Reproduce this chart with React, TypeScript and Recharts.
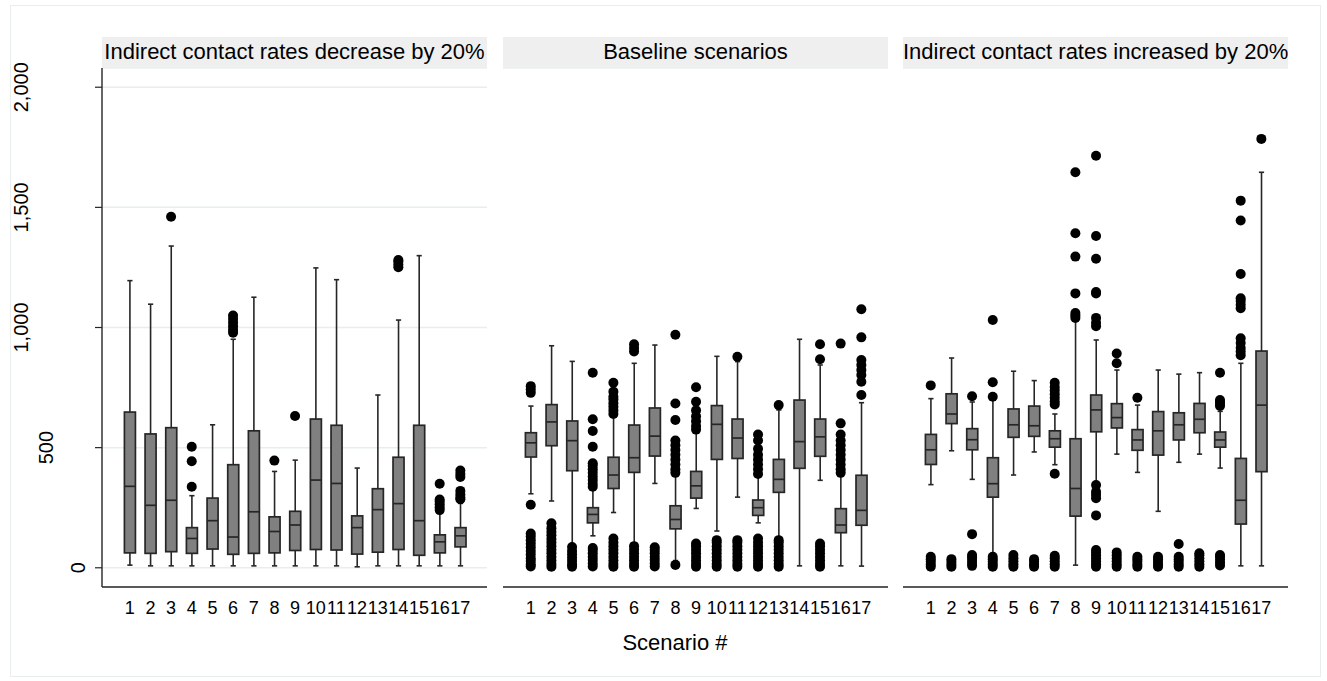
import React from 'react'
import { ComposedChart, Bar, Scatter, XAxis, YAxis, CartesianGrid } from 'recharts'

const scenarios = [1, 2, 3, 4, 5, 6, 7, 8, 9, 10, 11, 12, 13, 14, 15, 16, 17]
const yTicks = [0, 500, 1000, 1500, 2000]
const panelTitles = [
  'Indirect contact rates decrease by 20%',
  'Baseline scenarios',
  'Indirect contact rates increased by 20%',
]

// indirect contact rates -20%
const decLo = [11, 8, 8, 8, 8, 8, 8, 8, 8, 8, 8, 4, 8, 8, 8, 8, 8]
const decQ1 = [62, 60, 67, 60, 78, 56, 60, 62, 72, 76, 74, 57, 65, 76, 52, 62, 87]
const decMed = [339, 260, 281, 122, 196, 128, 233, 151, 178, 365, 351, 167, 242, 267, 196, 108, 133]
const decQ3 = [648, 557, 583, 167, 290, 429, 570, 212, 235, 619, 593, 216, 329, 460, 593, 137, 167]
const decHi = [1195, 1097, 1339, 300, 595, 951, 1126, 401, 448, 1248, 1199, 415, 719, 1031, 1299, 232, 268]
const decOut = [
  [], [], [1461], [337, 443, 504], [], [978, 990, 1005, 1020, 1035, 1050], [], [446], [632],
  [], [], [], [], [1251, 1262, 1275, 1281], [], [240, 252, 264, 276, 284, 350],
  [285, 292, 305, 320, 378, 390, 405],
]

// baseline
const baseLo = [308, 278, 100, 133, 230, 100, 351, 30, 247, 153, 294, 187, 125, 8, 364, 8, 7]
const baseQ1 = [461, 508, 404, 187, 330, 397, 465, 162, 290, 451, 455, 218, 314, 414, 464, 146, 177]
const baseMed = [520, 607, 529, 222, 386, 458, 548, 201, 341, 597, 540, 250, 368, 525, 545, 178, 239]
const baseQ3 = [562, 679, 611, 250, 460, 594, 665, 258, 401, 675, 619, 282, 451, 698, 619, 246, 385]
const baseHi = [673, 924, 859, 323, 628, 851, 927, 386, 560, 880, 858, 379, 657, 951, 844, 385, 687]
const baseOut = [
  [5, 15, 28, 40, 55, 70, 85, 100, 115, 130, 143, 262, 728, 742, 756],
  [4, 16, 30, 45, 60, 75, 90, 105, 120, 135, 150, 165, 185],
  [4, 15, 28, 42, 56, 70, 86],
  [5, 18, 32, 46, 60, 74, 82, 337, 350, 365, 380, 395, 410, 425, 435, 504, 569, 618, 812],
  [4, 16, 30, 45, 60, 75, 90, 105, 122, 640, 655, 670, 685, 700, 712, 733, 770],
  [4, 16, 30, 45, 60, 75, 90, 900, 915, 930],
  [5, 18, 32, 46, 60, 74, 85],
  [12, 395, 410, 430, 450, 470, 490, 510, 530, 615, 684, 970],
  [4, 16, 30, 45, 60, 75, 90, 101, 575, 590, 610, 630, 655, 691, 751],
  [4, 16, 30, 45, 60, 75, 90, 105, 115],
  [4, 16, 30, 45, 60, 75, 90, 105, 115, 878],
  [4, 16, 30, 45, 60, 75, 90, 105, 122, 390, 410, 430, 450, 470, 495, 530, 555],
  [4, 16, 30, 45, 60, 75, 90, 105, 115, 677],
  [],
  [4, 16, 30, 45, 60, 75, 90, 101, 868, 930],
  [395, 410, 430, 450, 470, 490, 510, 530, 555, 601, 933],
  [719, 774, 802, 823, 844, 865, 959, 1076],
]

// indirect contact rates +20%
const incLo = [346, 487, 368, 60, 386, 482, 429, 11, 358, 473, 397, 235, 439, 473, 415, 8, 8]
const incQ1 = [430, 600, 491, 294, 543, 547, 502, 215, 566, 582, 489, 469, 532, 562, 502, 182, 400]
const incMed = [491, 640, 533, 350, 595, 591, 537, 330, 657, 625, 532, 570, 595, 618, 532, 281, 677]
const incQ3 = [555, 724, 579, 458, 661, 673, 570, 537, 719, 683, 575, 650, 645, 684, 565, 455, 902]
const incHi = [704, 873, 690, 698, 818, 779, 640, 1035, 948, 823, 677, 823, 806, 812, 651, 851, 1646]
const incOut = [
  [4, 14, 25, 36, 46, 759],
  [4, 14, 25, 36],
  [8, 20, 32, 44, 53, 140, 714],
  [4, 14, 25, 36, 46, 712, 772, 1031],
  [4, 15, 27, 40, 53],
  [4, 14, 25, 36],
  [4, 15, 27, 40, 50, 391, 680, 692, 708, 722, 738, 752, 770],
  [1040, 1050, 1060, 1142, 1295, 1392, 1646],
  [4, 15, 27, 40, 52, 64, 74, 218, 289, 304, 316, 344, 1005, 1020, 1040, 1142, 1148, 1286, 1381, 1715],
  [4, 15, 27, 40, 52, 64, 851, 892],
  [4, 14, 25, 36, 46, 708],
  [4, 14, 25, 36, 46],
  [4, 14, 25, 36, 46, 99],
  [4, 15, 27, 40, 52, 60],
  [10, 22, 34, 46, 53, 673, 682, 690, 698, 812],
  [885, 900, 915, 935, 955, 1080, 1095, 1110, 1122, 1223, 1445, 1528],
  [1785],
]

const INK = '#262626'
const FONT = '"Liberation Sans", Arial, Helvetica, sans-serif'
const PLOT_TOP = 68
const PLOT_H = 519
const XAXIS_H = 40
const TOP_PAD = 32
const Y_DOMAIN = [-80, 2080]
const X_DOMAIN = [-0.343, 18.29]

function boxRows(lo: number[], q1: number[], med: number[], q3: number[], hi: number[]) {
  return scenarios.map((s, i) => ({
    x: s,
    range: [lo[i], hi[i]],
    lo: lo[i],
    q1: q1[i],
    med: med[i],
    q3: q3[i],
    hi: hi[i],
  }))
}

function outlierRows(out: number[][]) {
  return out.flatMap((vals, i) => vals.map((v) => ({ x: scenarios[i], v })))
}

function BoxShape(props: any) {
  const { x, y, width, height, payload } = props
  if (payload == null || height == null) return null
  const { lo, q1, med, q3, hi } = payload
  const py = (v: number) => y + (height * (hi - v)) / (hi - lo)
  const cx = x + width / 2
  const cap = 2.6
  return (
    <g>
      <line x1={cx} x2={cx} y1={py(hi)} y2={py(lo)} stroke={INK} strokeWidth={1.6} />
      <line x1={cx - cap} x2={cx + cap} y1={py(hi)} y2={py(hi)} stroke={INK} strokeWidth={1.6} />
      <line x1={cx - cap} x2={cx + cap} y1={py(lo)} y2={py(lo)} stroke={INK} strokeWidth={1.6} />
      <rect x={x} y={py(q3)} width={width} height={py(q1) - py(q3)} fill="#808080" stroke={INK} strokeWidth={1.7} />
      <line x1={x} x2={x + width} y1={py(med)} y2={py(med)} stroke={INK} strokeWidth={1.7} />
    </g>
  )
}

function Dot(props: any) {
  if (props.cx == null || props.cy == null) return null
  return <circle cx={props.cx} cy={props.cy} r={5} fill="#000" />
}

function YTick(props: any) {
  const { x, y, payload } = props
  const label = Number(payload.value).toLocaleString('en-US')
  const shift = label.length === 1 ? 8 : label.length === 3 ? 40 : 65
  const bx = x - shift
  return (
    <text x={bx} y={y} transform={`rotate(-90 ${bx} ${y})`} textAnchor="middle" fontSize={20} fill="#000" fontFamily={FONT}>
      {label}
    </text>
  )
}

type PanelProps = {
  left: number
  width: number
  yWidth: number
  rows: any[]
  outliers: any[]
  showY: boolean
}

function Panel({ left, width, yWidth, rows, outliers, showY }: PanelProps) {
  return (
    <div style={{ position: 'absolute', left, top: PLOT_TOP - TOP_PAD }}>
      <ComposedChart
        width={width}
        height={TOP_PAD + PLOT_H + XAXIS_H}
        data={rows}
        margin={{ top: TOP_PAD, right: 0, bottom: 0, left: 0 }}
      >
        <CartesianGrid vertical={false} stroke="#e7eeef" strokeWidth={1.5} />
        <XAxis
          type="number"
          dataKey="x"
          domain={X_DOMAIN}
          ticks={scenarios}
          interval={0}
          allowDataOverflow
          tickLine={false}
          tickSize={0}
          tickMargin={14}
          height={XAXIS_H}
          axisLine={{ stroke: INK, strokeWidth: 1.4 }}
          tick={{ fontSize: 18, fill: '#000', fontFamily: FONT }}
        />
        {showY ? (
          <YAxis
            type="number"
            domain={Y_DOMAIN}
            ticks={yTicks}
            interval={0}
            allowDataOverflow
            width={yWidth}
            tickSize={7}
            tickMargin={2}
            axisLine={{ stroke: INK, strokeWidth: 1.4 }}
            tickLine={{ stroke: INK, strokeWidth: 1.2 }}
            tick={<YTick />}
          />
        ) : (
          <YAxis
            type="number"
            domain={Y_DOMAIN}
            ticks={yTicks}
            interval={0}
            allowDataOverflow
            width={0}
            axisLine={false}
            tickLine={false}
            tick={false}
          />
        )}
        <Bar dataKey="range" barSize={11} shape={<BoxShape />} isAnimationActive={false} />
        <Scatter data={outliers} dataKey="v" shape={<Dot />} isAnimationActive={false} />
      </ComposedChart>
    </div>
  )
}

const panelBoxes = [
  { plotLeft: 102, rows: boxRows(decLo, decQ1, decMed, decQ3, decHi), out: outlierRows(decOut) },
  { plotLeft: 503, rows: boxRows(baseLo, baseQ1, baseMed, baseQ3, baseHi), out: outlierRows(baseOut) },
  { plotLeft: 903, rows: boxRows(incLo, incQ1, incMed, incQ3, incHi), out: outlierRows(incOut) },
]
const PLOT_W = 385

export default function App() {
  return (
    <div style={{ position: 'absolute', left: 0, top: 0, width: 1327, height: 681, background: '#fff', fontFamily: FONT }}>
      <div style={{ position: 'absolute', left: 10, top: 5, width: 1309, height: 670, border: '1px solid #e8eeee' }} />
      {panelBoxes.map((p, i) => (
        <Panel
          key={'p' + i}
          left={i === 0 ? 0 : p.plotLeft}
          width={i === 0 ? p.plotLeft + PLOT_W : PLOT_W}
          yWidth={p.plotLeft}
          rows={p.rows}
          outliers={p.out}
          showY={i === 0}
        />
      ))}
      {panelBoxes.map((p, i) => (
        <div
          key={'h' + i}
          style={{
            position: 'absolute',
            left: p.plotLeft,
            top: 37,
            width: PLOT_W,
            height: 31,
            background: '#efefef',
            fontSize: 22,
            lineHeight: '30px',
            textAlign: 'center',
            color: '#000',
            whiteSpace: 'nowrap',
          }}
        >
          {panelTitles[i]}
        </div>
      ))}
      <div style={{ position: 'absolute', left: 575, width: 200, top: 630, textAlign: 'center', fontSize: 22, color: '#000' }}>
        Scenario #
      </div>
    </div>
  )
}
